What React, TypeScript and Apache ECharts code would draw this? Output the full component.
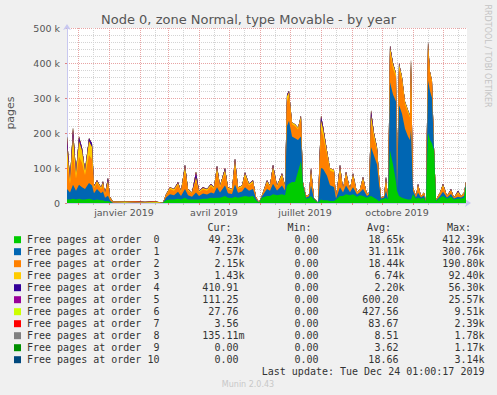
import React, { useEffect, useRef } from 'react';
import * as echarts from 'echarts';

// x positions: days since 2018-11-20 (left edge of the plot)
const spanDays = 400;
const days = [
  0, 3, 6, 9, 12, 15, 18, 22, 25, 27,
  30, 34, 36, 38, 41, 43, 46, 58, 68, 78,
  88, 93, 96, 99, 103, 107, 111, 114, 118, 121,
  125, 129, 132, 136, 140, 144, 147, 150, 153, 158,
  161, 165, 168, 171, 175, 178, 182, 186, 189, 192,
  195, 200, 203, 206, 210, 215, 218, 220, 222, 225,
  228, 231, 234, 236, 239, 242, 244, 247, 251, 254,
  256, 260, 263, 267, 269, 273, 276, 279, 283, 286,
  290, 293, 296, 300, 302, 304, 307, 310, 312, 314,
  317, 319, 321, 323, 326, 329, 330, 332, 335, 338,
  341, 343, 344, 346, 349, 351, 354, 357, 359, 361,
  363, 365, 367, 369, 373, 376, 380, 384, 387, 391,
  394, 397, 399,
];

// values in thousands of pages
const order0 = [
  10, 10, 12, 10, 12, 10, 10, 12, 10, 8,
  10, 8, 8, 5, 6, 3, 0, 0, 0, 0,
  0, 0, 0.5, 8, 10, 10, 12, 10, 15, 10,
  10, 10, 10, 12, 12, 15, 14, 15, 15, 20,
  15, 14, 18, 15, 18, 20, 18, 20, 8, 1,
  15, 20, 20, 25, 22, 25, 22, 50, 55, 60,
  60, 90, 120, 50, 12, 14, 20, 10, 0.5, 10,
  8, 8, 6, 6, 10, 20, 20, 25, 22, 25,
  18, 22, 20, 15, 18, 20, 15, 10, 5, 10,
  12, 15, 10, 150, 110, 60, 35, 20, 15, 12,
  10, 10, 10, 25, 12, 15, 12, 15, 3, 200,
  180, 170, 150, 6, 15, 20, 12, 18, 10, 12,
  12, 15, 49,
];
const order1 = [
  30, 20, 40, 25, 40, 35, 30, 45, 40, 20,
  30, 20, 25, 10, 15, 5, 0, 0, 0, 0,
  0, 0, 0.3, 8, 15, 12, 20, 10, 25, 12,
  8, 20, 10, 15, 12, 15, 13, 30, 15, 30,
  13, 12, 35, 14, 15, 25, 17, 20, 5, 0.5,
  4, 20, 15, 30, 14, 25, 14, 170, 180, 130,
  125, 90, 70, 5, 4, 5, 30, 3, 0.3, 90,
  90, 70, 45, 40, 3, 25, 10, 25, 9, 20,
  6, 9, 20, 5, 6, 140, 120, 100, 50, 3,
  4, 20, 3, 195, 200, 230, 5, 260, 240, 200,
  180, 170, 200, 10, 4, 15, 4, 7, 1, 150,
  140, 130, 8, 2, 5, 12, 4, 8, 3, 6,
  4, 6, 7.6,
];
const order2 = [
  80, 25, 90, 35, 80, 70, 40, 80, 75, 15,
  18, 12, 20, 10, 35, 7, 0.5, 0, 0, 0,
  0, 0, 0.2, 6, 15, 13, 20, 11, 50, 13,
  9, 35, 11, 12, 11, 18, 13, 45, 14, 35,
  12, 10, 55, 12, 12, 30, 15, 18, 4, 0.5,
  2, 18, 11, 40, 10, 25, 10, 70, 70, 35,
  35, 30, 50, 3, 3, 4, 35, 2, 0.2, 110,
  95, 60, 42, 42, 2, 45, 7, 30, 6, 30,
  4, 6, 25, 3, 4, 70, 50, 40, 20, 2,
  3, 25, 2, 85, 75, 70, 0, 105, 95, 70,
  68, 64, 180, 7, 3, 18, 3, 6, 1, 95,
  50, 45, 2, 2, 7, 15, 3, 9, 2, 10,
  3, 6, 2.2,
];
const order3 = [
  40, 10, 50, 15, 45, 35, 12, 40, 35, 5,
  5, 4, 6, 2, 8, 2, 0.5, 0.3, 0.5, 0,
  0, 0, 0, 2, 4, 4, 5, 3, 15, 4,
  2, 8, 3, 4, 4, 5, 4, 12, 5, 10,
  4, 3, 15, 3, 4, 10, 4, 5, 1, 0,
  1, 5, 3, 10, 3, 8, 3, 15, 12, 5,
  5, 5, 8, 1, 1, 2, 10, 0, 0, 25,
  20, 10, 6, 6, 0, 15, 3, 8, 3, 8,
  2, 3, 8, 2, 2, 20, 12, 8, 5, 0,
  1, 10, 0, 15, 12, 10, 0, 12, 10, 8,
  7, 6, 20, 3, 1, 5, 1, 2, 0, 12,
  5, 5, 0, 0, 3, 6, 1, 3, 0, 4,
  1, 3, 1.4,
];
const order4 = [
  20, 5, 15, 5, 10, 8, 3, 8, 10, 2,
  2, 1, 3, 1, 8, 1, 0, 0, 0, 0,
  0, 0, 0, 1, 1, 1, 3, 1, 5, 1,
  1, 12, 1, 2, 1, 2, 1, 5, 1, 5,
  1, 1, 5, 1, 1, 3, 1, 2, 0, 0,
  0, 2, 1, 5, 1, 2, 1, 5, 3, 0,
  0, 0, 2, 0, 0, 0, 5, 0, 0, 12,
  7, 2, 0, 0, 0, 5, 0, 2, 0, 2,
  0, 0, 2, 0, 0, 12, 3, 2, 0, 0,
  0, 5, 0, 5, 3, 0, 0, 3, 0, 0,
  0, 0, 0, 0, 0, 2, 0, 0, 0, 3,
  0, 0, 0, 0, 0, 2, 0, 2, 0, 3,
  0, 0, 0.4,
];
const order5 = [
  10, 0, 8, 0, 3, 0, 0, 0, 0, 0,
  0, 0, 0, 0, 0, 0, 0.5, 0.5, 1, 0.5,
  1, 0, 0, 0, 0, 0, 0, 0, 0, 0,
  0, 5, 0, 0, 0, 0, 0, 0, 0, 0,
  0, 0, 0, 0, 0, 0, 0, 0, 0, 0,
  0, 0, 0, 0, 0, 0, 0, 0, 0, 0,
  0, 0, 0, 0, 0, 0, 0, 0, 0, 3,
  0, 0, 0, 0, 0, 0, 0, 0, 0, 0,
  0, 0, 0, 0, 0, 3, 0, 0, 0, 0,
  0, 0, 0, 0, 0, 0, 0, 0, 0, 0,
  0, 0, 0, 0, 0, 0, 0, 0, 0, 0,
  0, 0, 0, 0, 0, 0, 0, 0, 0, 0,
  0, 0, 0.1,
];
const order6 = [
  0, 0, 0, 0, 0, 0, 0, 0, 0, 0,
  0, 0, 0, 0, 0, 0, 2, 2.5, 2, 2,
  2.5, 1.5, 0, 0, 0, 0, 0, 0, 0, 0,
  0, 0, 0, 0, 0, 0, 0, 0, 0, 0,
  0, 0, 0, 0, 0, 0, 0, 0, 0, 0,
  0, 0, 0, 0, 0, 0, 0, 0, 0, 0,
  0, 0, 0, 0, 0, 0, 0, 0, 0, 0,
  0, 0, 0, 0, 0, 0, 0, 0, 0, 0,
  0, 0, 0, 0, 0, 0, 0, 0, 0, 0,
  0, 0, 0, 0, 0, 0, 0, 0, 0, 0,
  0, 0, 0, 0, 0, 0, 0, 0, 0, 0,
  0, 0, 0, 0, 0, 0, 0, 0, 0, 0,
  0, 0, 0,
];
const order7 = [
  0, 0, 0, 0, 0, 0, 0, 0, 0, 0,
  0, 0, 0, 0, 0, 0, 1, 1, 1.5, 1.2,
  1.5, 0.8, 0, 0, 0, 0, 0, 0, 0, 0,
  0, 0, 0, 0, 0, 0, 0, 0, 0, 0,
  0, 0, 0, 0, 0, 0, 0, 0, 0, 0,
  0, 0, 0, 0, 0, 0, 0, 0, 0, 0,
  0, 0, 0, 0, 0, 0, 0, 0, 0, 0,
  0, 0, 0, 0, 0, 0, 0, 0, 0, 0,
  0, 0, 0, 0, 0, 0, 0, 0, 0, 0,
  0, 0, 0, 0, 0, 0, 0, 0, 0, 0,
  0, 0, 0, 0, 0, 0, 0, 0, 0, 0,
  0, 0, 0, 0, 0, 0, 0, 0, 0, 0,
  0, 0, 0,
];
const order8 = [
  0, 0, 0, 0, 0, 0, 0, 0, 0, 0,
  0, 0, 0, 0, 0, 0, 0, 0, 0, 0,
  0, 0, 0, 0, 0, 0, 0, 0, 0, 0,
  0, 0, 0, 0, 0, 0, 0, 0, 0, 0,
  0, 0, 0, 0, 0, 0, 0, 0, 0, 0,
  0, 0, 0, 0, 0, 0, 0, 0, 0, 0,
  0, 0, 0, 0, 0, 0, 0, 0, 0, 0,
  0, 0, 0, 0, 0, 0, 0, 0, 0, 0,
  0, 0, 0, 0, 0, 0, 0, 0, 0, 0,
  0, 0, 0, 0, 0, 0, 0, 0, 0, 0,
  0, 0, 0, 0, 0, 0, 0, 0, 0, 0,
  0, 0, 0, 0, 0, 0, 0, 0, 0, 0,
  0, 0, 0,
];
const order9 = [
  0, 0, 0, 0, 0, 0, 0, 0, 0, 0,
  0, 0, 0, 0, 0, 0, 0, 0, 0, 0,
  0, 0, 0, 0, 0, 0, 0, 0, 0, 0,
  0, 0, 0, 0, 0, 0, 0, 0, 0, 0,
  0, 0, 0, 0, 0, 0, 0, 0, 0, 0,
  0, 0, 0, 0, 0, 0, 0, 0, 0, 0,
  0, 0, 0, 0, 0, 0, 0, 0, 0, 0,
  0, 0, 0, 0, 0, 0, 0, 0, 0, 0,
  0, 0, 0, 0, 0, 0, 0, 0, 0, 0,
  0, 0, 0, 0, 0, 0, 0, 0, 0, 0,
  0, 0, 0, 0, 0, 0, 0, 0, 0, 0,
  0, 0, 0, 0, 0, 0, 0, 0, 0, 0,
  0, 0, 0,
];
const order10 = [
  1.5, 0, 1, 0, 0, 0, 0, 0, 0, 0,
  0, 0, 0, 0, 0, 0, 0, 0, 0, 0,
  0, 0, 0, 0, 0, 0, 0, 0, 0, 0,
  0, 0, 0, 0, 0, 0, 0, 0, 0, 0,
  0, 0, 0, 0, 0, 0, 0, 0, 0, 0,
  0, 0, 0, 0, 0, 0, 0, 0, 0, 0,
  0, 0, 0, 0, 0, 0, 0, 0, 0, 0,
  0, 0, 0, 0, 0, 0, 0, 0, 0, 0,
  0, 0, 0, 0, 0, 0, 0, 0, 0, 0,
  0, 0, 0, 0, 0, 0, 0, 0, 0, 0,
  0, 0, 0, 0, 0, 0, 0, 0, 0, 0,
  0, 0, 0, 0, 0, 0, 0, 0, 0, 0,
  0, 0, 0,
];

const seriesValues = [order0, order1, order2, order3, order4, order5, order6, order7, order8, order9, order10];

const seriesNames = [
  'Free pages at order  0', 'Free pages at order  1', 'Free pages at order  2', 'Free pages at order  3',
  'Free pages at order  4', 'Free pages at order  5', 'Free pages at order  6', 'Free pages at order  7',
  'Free pages at order  8', 'Free pages at order  9', 'Free pages at order 10',
];
const seriesColors = [
  '#00CC00', '#0066B3', '#FF8000', '#FFCC00', '#330099', '#990099',
  '#CCFF00', '#FF0000', '#808080', '#008F00', '#00487D',
];
const curValues = ['49.23k', '7.57k', '2.15k', '1.43k', '410.91', '111.25', '27.76', '3.56', '135.11m', '0.00', '0.00'];
const minValues = ['0.00', '0.00', '0.00', '0.00', '0.00', '0.00', '0.00', '0.00', '0.00', '0.00', '0.00'];
const avgValues = ['18.65k', '31.11k', '18.44k', '6.74k', '2.20k', '600.20', '427.56', '83.67', '8.51', '3.62', '18.66'];
const maxValues = ['412.39k', '300.76k', '190.80k', '92.40k', '56.30k', '25.57k', '9.51k', '2.39k', '1.78k', '1.17k', '3.14k'];
const columnHeaders = ['Cur:', 'Min:', 'Avg:', 'Max:'];

const monthStartDays = [11, 42, 73, 101, 132, 162, 193, 223, 254, 285, 315, 346, 376];
const midMonthDays = [26, 57, 88, 116, 147, 177, 208, 238, 269, 300, 330, 361, 391];
const monthLabelDays = [57, 147, 238, 330];
const monthLabels = ['janvier 2019', 'avril 2019', 'juillet 2019', 'octobre 2019'];

const titleText = 'Node 0, zone Normal, type Movable - by year';
const yAxisName = 'pages';
const lastUpdate = 'Last update: Tue Dec 24 01:00:17 2019';
const sideText = 'RRDTOOL / TOBI OETIKER';
const footerText = 'Munin 2.0.43';

const SANS = 'DejaVu Sans';
const MONO = 'DejaVu Sans Mono';

export default function App() {
  const ref = useRef<HTMLDivElement>(null);
  useEffect(() => {
    document.body.style.margin = '0';
    const chart = echarts.init(ref.current!, null, { renderer: 'svg' });

    // stacked tops (order 0 at the bottom)
    const running = days.map(() => 0);
    const stackedTops = seriesValues.map((vals) => vals.map((v, j) => (running[j] += v)));

    // draw the highest band first so that lower bands sit in front of it
    const series = seriesValues
      .map((_, i) => ({
        name: seriesNames[i],
        type: 'line',
        xAxisIndex: 0,
        yAxisIndex: 0,
        symbol: 'none',
        showSymbol: false,
        silent: true,
        lineStyle: { width: 0 },
        areaStyle: { color: seriesColors[i], opacity: 1, origin: 'start' },
        itemStyle: { color: seriesColors[i] },
        emphasis: { disabled: true },
        data: days.map((d, j) => [d, stackedTops[i][j]]),
      }))
      .reverse();

    const charW = 6.02;
    const rowY0 = 239.7;
    const rowH = 12;
    const colRights = [244.5, 324.5, 404.5, 484.5];
    const headerLefts = [207.5, 287.5, 367, 447];
    const cols = [curValues, minValues, avgValues, maxValues];
    const graphics: any[] = [];

    graphics.push({
      type: 'text', x: 248.5, y: 19,
      style: { text: titleText, fontFamily: SANS, fontSize: 13, fill: '#555', align: 'center', verticalAlign: 'middle' },
    });
    graphics.push({
      type: 'text', x: 10, y: 113, rotation: Math.PI / 2,
      style: { text: yAxisName, fontFamily: SANS, fontSize: 11, fill: '#555', align: 'center', verticalAlign: 'middle' },
    });
    graphics.push({
      type: 'text', x: 487, y: 56, rotation: -Math.PI / 2,
      style: { text: sideText, fontFamily: SANS, fontSize: 8, fill: '#c4c4c4', align: 'center', verticalAlign: 'middle' },
    });
    columnHeaders.forEach((h, c) => {
      graphics.push({
        type: 'text', x: headerLefts[c], y: rowY0 - rowH,
        style: { text: h, fontFamily: MONO, fontSize: 10, fill: '#333', align: 'left', verticalAlign: 'middle' },
      });
    });
    seriesNames.forEach((name, i) => {
      const y = rowY0 + rowH * i;
      graphics.push({ type: 'rect', shape: { x: 14, y: y - 3.5, width: 7, height: 7 }, style: { fill: seriesColors[i] } });
      graphics.push({
        type: 'text', x: 27, y,
        style: { text: name.replace(/ {2}/g, ' \u00a0'), fontFamily: MONO, fontSize: 10, fill: '#333', align: 'left', verticalAlign: 'middle' },
      });
      cols.forEach((col, c) => {
        const v = col[i];
        const hasUnit = /[a-z]$/i.test(v);
        graphics.push({
          type: 'text', x: colRights[c] - (hasUnit ? 0 : charW), y,
          style: { text: v, fontFamily: MONO, fontSize: 10, fill: '#333', align: 'right', verticalAlign: 'middle' },
        });
      });
    });
    graphics.push({
      type: 'text', x: 484.5, y: rowY0 + rowH * 11 - 0.5,
      style: { text: lastUpdate, fontFamily: MONO, fontSize: 10, fill: '#333', align: 'right', verticalAlign: 'middle' },
    });
    graphics.push({
      type: 'text', x: 248, y: 384,
      style: { text: footerText, fontFamily: SANS, fontSize: 8, fill: '#c8c8c8', align: 'center', verticalAlign: 'middle' },
    });

    const option: any = {
      animation: false,
      backgroundColor: '#f0f0f0',
      textStyle: { fontFamily: SANS },
      grid: { left: 67, right: 30, top: 28, height: 175, show: true, backgroundColor: '#ffffff', borderWidth: 0, containLabel: false },
      xAxis: [
        {
          type: 'value', min: 0, max: spanDays, position: 'bottom',
          axisLine: { show: true, lineStyle: { color: '#c8c8f0', width: 1 }, symbol: ['none', 'arrow'], symbolSize: [6, 6], symbolOffset: [0, 4] },
          axisTick: { show: true, customValues: monthStartDays, length: 2, lineStyle: { color: '#e08080' } },
          axisLabel: {
            show: true, customValues: monthLabelDays, margin: 4, fontSize: 9.5, color: '#555', fontFamily: SANS,
            formatter: (v: number) => monthLabels[monthLabelDays.indexOf(Math.round(v))] ?? '',
          },
          splitLine: { show: true, lineStyle: { color: '#e8a4a4', type: [1, 1], width: 1 } },
        },
        {
          type: 'value', min: 0, max: spanDays, position: 'bottom',
          axisLine: { show: false },
          axisTick: { show: true, customValues: midMonthDays, length: 2, lineStyle: { color: '#bbbbbb' } },
          axisLabel: { show: false },
          splitLine: { show: true, lineStyle: { color: '#d4d4d4', type: [1, 1], width: 1 } },
        },
      ],
      yAxis: [
        {
          type: 'value', min: 0, max: 500, interval: 100,
          axisLine: { show: true, lineStyle: { color: '#c8c8f0', width: 1 }, symbol: ['none', 'arrow'], symbolSize: [6, 6], symbolOffset: [0, 4] },
          axisTick: { show: true, length: 2, lineStyle: { color: '#e08080' } },
          axisLabel: {
            margin: 7, fontSize: 9.5, color: '#555', fontFamily: SANS,
            formatter: (v: number) => (v === 0 ? '0' : `${v} k`),
          },
          splitLine: { show: true, lineStyle: { color: '#e8a4a4', type: [1, 1], width: 1 } },
          minorTick: { show: false, splitNumber: 5 },
          minorSplitLine: { show: true, lineStyle: { color: '#d4d4d4', type: [1, 1], width: 1 } },
        },
      ],
      series,
      graphic: graphics,
    };
    chart.setOption(option);
    return () => chart.dispose();
  }, []);
  return <div ref={ref} style={{ width: 497, height: 395 }} />;
}
